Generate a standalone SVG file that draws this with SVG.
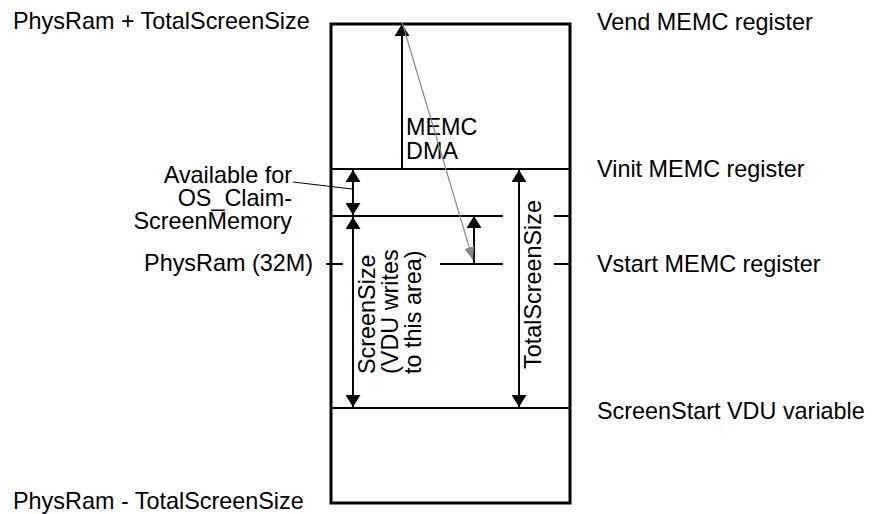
<svg xmlns="http://www.w3.org/2000/svg" width="874" height="514" viewBox="0 0 874 514">
  <style>
    text { font-family: "Liberation Sans", Arial, sans-serif; font-size: 23.4px; fill: #000; }
    .frame { fill: none; stroke: #000; stroke-width: 3; }
    .div { stroke: #000; stroke-width: 2; fill: none; }
    .arr { stroke: #000; stroke-width: 2; fill: none; }
    .dbl { marker-start: url(#ah); marker-end: url(#ah); }
    .one { marker-end: url(#ah); }
    .gray { stroke: #888; stroke-width: 1.2; fill: none; marker-end: url(#gh); }
    .lead { stroke: #000; stroke-width: 1; fill: none; }
  </style>
  <defs>
    <marker id="ah" viewBox="0 0 12 15" refX="12" refY="7.5" markerWidth="12" markerHeight="15" markerUnits="userSpaceOnUse" orient="auto-start-reverse">
      <path d="M0,0 L12,7.5 L0,15 Z" fill="#000"/>
    </marker>
    <marker id="gh" viewBox="0 0 13 10" refX="13" refY="5" markerWidth="13" markerHeight="10" markerUnits="userSpaceOnUse" orient="auto">
      <path d="M0,0 L13,5 L0,10 Z" fill="#888"/>
    </marker>
  </defs>

  <g id="memory-map">
    <rect class="frame" x="331" y="24" width="239" height="479"/>
    <line class="div" x1="331" y1="169" x2="570" y2="169"/>
    <line class="div" x1="331" y1="216" x2="503" y2="216"/>
    <line class="div" x1="554" y1="216" x2="570" y2="216"/>
    <line class="div" x1="326" y1="264" x2="343" y2="264"/>
    <line class="div" x1="440" y1="264" x2="503" y2="264"/>
    <line class="div" x1="554" y1="264" x2="571" y2="264"/>
    <line class="div" x1="331" y1="408" x2="570" y2="408"/>
  </g>

  <g id="label-physram-plus"><text x="13" y="29">PhysRam + TotalScreenSize</text></g>
  <g id="label-physram-minus"><text x="13" y="509">PhysRam - TotalScreenSize</text></g>
  <g id="label-physram-32m"><text x="313" y="271" text-anchor="end">PhysRam (32M)</text></g>
  <g id="label-available">
    <text text-anchor="end"><tspan x="292" y="183">Available for</tspan><tspan x="292" y="206">OS_Claim-</tspan><tspan x="292" y="229">ScreenMemory</tspan></text>
  </g>
  <g id="label-vend"><text x="597" y="30">Vend MEMC register</text></g>
  <g id="label-vinit"><text x="597" y="177">Vinit MEMC register</text></g>
  <g id="label-vstart"><text x="597" y="272">Vstart MEMC register</text></g>
  <g id="label-screenstart"><text x="597" y="419">ScreenStart VDU variable</text></g>
  <g id="label-memc-dma">
    <text><tspan x="406" y="135">MEMC</tspan><tspan x="406" y="159">DMA</tspan></text>
  </g>
  <g id="label-screensize">
    <text transform="translate(375,374) rotate(-90)"><tspan x="0" y="0">ScreenSize</tspan><tspan x="0" y="23">(VDU writes</tspan><tspan x="0" y="46">to this area)</tspan></text>
  </g>
  <g id="label-totalscreensize">
    <text transform="translate(541,369) rotate(-90)">TotalScreenSize</text>
  </g>

  <g id="connectors">
    <line class="arr one" x1="402" y1="169" x2="402" y2="24"/>
    <line class="arr dbl" x1="353" y1="170" x2="353" y2="215"/>
    <line class="arr dbl" x1="353" y1="217" x2="353" y2="407"/>
    <line class="arr dbl" x1="519" y1="170" x2="519" y2="407"/>
    <line class="arr one" x1="474" y1="264" x2="474" y2="216"/>
    <line class="gray" x1="402" y1="22" x2="473" y2="260"/>
    <line class="lead" x1="293" y1="182" x2="352" y2="189"/>
  </g>
</svg>
